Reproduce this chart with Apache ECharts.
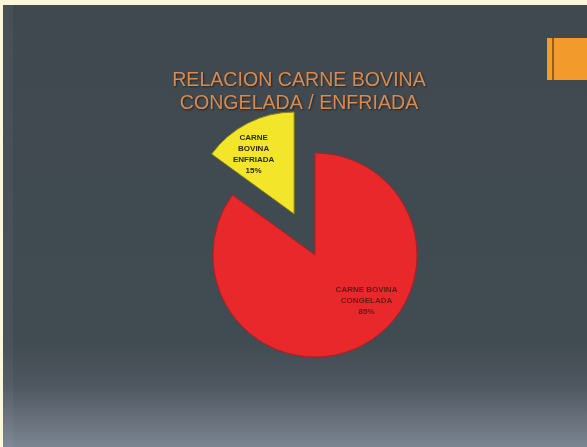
<!DOCTYPE html>
<html>
<head>
<meta charset="utf-8">
<script src="https://cdn.jsdelivr.net/npm/echarts@6/dist/echarts.min.js"></script>
<style>
html,body{margin:0;padding:0;background:#fdf7d9;}
#c{width:587px;height:447px;}
</style>
</head>
<body>
<div id="c"></div>
<script>
var titleLines = ['RELACION CARNE BOVINA', 'CONGELADA / ENFRIADA'];
var categories = ['CARNE BOVINA CONGELADA', 'CARNE BOVINA ENFRIADA'];
var labelLines = [['CARNE BOVINA', 'CONGELADA'], ['CARNE', 'BOVINA', 'ENFRIADA']];
var values = [85, 15];
var colors = ['#e8282b', '#f3e62a'];

var chart = echarts.init(document.getElementById('c'), null, {renderer: 'canvas'});
chart.setOption({
  backgroundColor: 'transparent',
  graphic: [
    {type: 'rect', z: -10, shape: {x: 3, y: 5, width: 584, height: 442},
     style: {fill: {type: 'linear', x: 0, y: 0, x2: 0, y2: 1, colorStops: [
       {offset: 0, color: '#3f494f'}, {offset: 0.76, color: '#414b52'},
       {offset: 0.86, color: '#4e575f'}, {offset: 1, color: '#7b8592'}]}}},
    {type: 'rect', z: -9, shape: {x: 3, y: 5, width: 10, height: 442},
     style: {fill: 'rgba(255,255,255,0.04)'}},
    {type: 'rect', z: -5, shape: {x: 547, y: 38, width: 40, height: 42},
     style: {fill: '#f39a2c'}},
    {type: 'rect', z: -4, shape: {x: 552, y: 38, width: 2, height: 42},
     style: {fill: '#9a5a18'}}
  ],
  title: {
    text: titleLines.join('\n'),
    left: 294, top: 64, textAlign: 'center',
    textStyle: {color: '#d98a4e', fontSize: 19.6, fontWeight: 'normal',
      fontFamily: 'Liberation Sans, Arial, sans-serif', lineHeight: 23,
      textShadowColor: 'rgba(0,0,0,0.5)', textShadowBlur: 2, textShadowOffsetX: 1, textShadowOffsetY: 1}
  },
  series: [{
    type: 'pie',
    center: [315, 255],
    radius: 102,
    startAngle: 90,
    clockwise: true,
    selectedMode: 'multiple',
    selectedOffset: 46,
    animation: false,
    data: categories.map(function (n, i) {
      return {name: n, value: values[i], selected: i === 1,
        itemStyle: {color: colors[i], borderColor: i === 1 ? '#8a8018' : '#b81c1f', borderWidth: 1},
        label: {color: i === 1 ? '#2e2a10' : '#6e1616'}};
    }),
    label: {
      position: 'inside',
      fontSize: 8, fontWeight: 'bold', lineHeight: 11,
      fontFamily: 'Liberation Sans, Arial, sans-serif',
      formatter: function (p) {
        return labelLines[p.dataIndex].join('\n') + '\n' + Math.round(p.percent) + '%';
      }
    },
    labelLine: {show: false},
    labelLayout: function (p) {
      return p.dataIndex === 0 ? {dx: 27, dy: -2} : {dx: -16, dy: -12};
    },
    emphasis: {disabled: true}
  }]
});
</script>
</body>
</html>
